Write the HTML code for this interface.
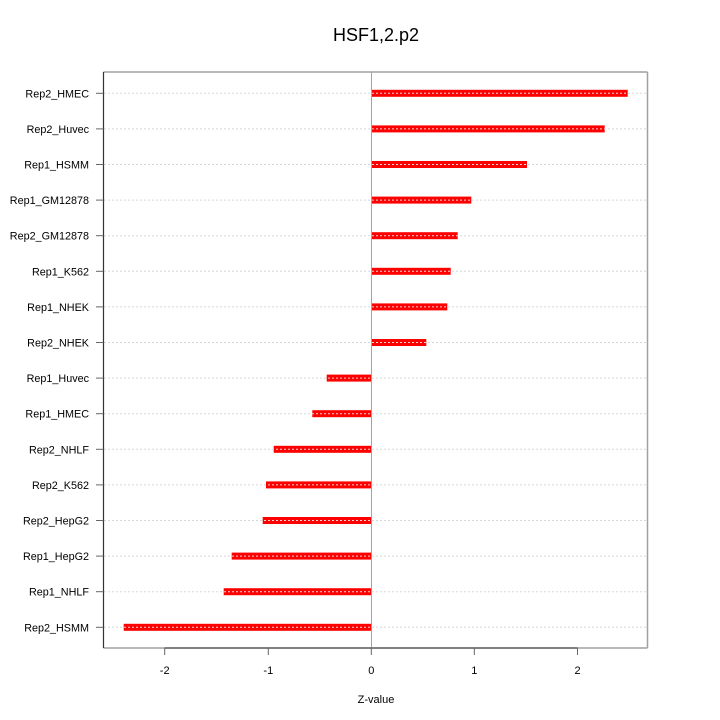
<!DOCTYPE html>
<html><head><meta charset="utf-8"><style>
html,body{margin:0;padding:0;background:#fff;}
svg{display:block;font-family:"Liberation Sans",Arial,sans-serif;}
</style></head><body>
<svg width="720" height="720" viewBox="0 0 720 720" xmlns="http://www.w3.org/2000/svg">
<rect width="720" height="720" fill="#fff"/>
<text x="376" y="41" font-size="18" text-anchor="middle" fill="#000">HSF1,2.p2</text>
<!-- bars -->
<g fill="#ff0000">
<rect x="371.3" y="89.8" width="256.4" height="7"/>
<rect x="371.3" y="125.4" width="233.4" height="7"/>
<rect x="371.3" y="161" width="155.7" height="7"/>
<rect x="371.3" y="196.6" width="100" height="7"/>
<rect x="371.3" y="232.2" width="86.4" height="7"/>
<rect x="371.3" y="267.8" width="79.4" height="7"/>
<rect x="371.3" y="303.4" width="76" height="7"/>
<rect x="371.3" y="339" width="55" height="7"/>
<rect x="326.7" y="374.6" width="44.6" height="7"/>
<rect x="312.3" y="410.2" width="59" height="7"/>
<rect x="273.7" y="445.8" width="97.6" height="7"/>
<rect x="266" y="481.4" width="105.3" height="7"/>
<rect x="262.7" y="517" width="108.6" height="7"/>
<rect x="231.7" y="552.6" width="139.6" height="7"/>
<rect x="223.7" y="588.2" width="147.6" height="7"/>
<rect x="123.7" y="623.8" width="247.6" height="7"/>
</g>
<!-- grid lines -->
<g stroke="#d8d8d8" stroke-width="1" stroke-dasharray="2,2">
<line x1="104" x2="647" y1="93.3" y2="93.3"/>
<line x1="104" x2="647" y1="128.9" y2="128.9"/>
<line x1="104" x2="647" y1="164.5" y2="164.5"/>
<line x1="104" x2="647" y1="200.1" y2="200.1"/>
<line x1="104" x2="647" y1="235.7" y2="235.7"/>
<line x1="104" x2="647" y1="271.3" y2="271.3"/>
<line x1="104" x2="647" y1="306.9" y2="306.9"/>
<line x1="104" x2="647" y1="342.5" y2="342.5"/>
<line x1="104" x2="647" y1="378.1" y2="378.1"/>
<line x1="104" x2="647" y1="413.7" y2="413.7"/>
<line x1="104" x2="647" y1="449.3" y2="449.3"/>
<line x1="104" x2="647" y1="484.9" y2="484.9"/>
<line x1="104" x2="647" y1="520.5" y2="520.5"/>
<line x1="104" x2="647" y1="556.1" y2="556.1"/>
<line x1="104" x2="647" y1="591.7" y2="591.7"/>
<line x1="104" x2="647" y1="627.3" y2="627.3"/>
</g>
<!-- zero line -->
<line x1="371.5" x2="371.5" y1="72" y2="648" stroke="#55dd44" stroke-width="1"/>
<!-- box -->
<line x1="103.5" x2="647.5" y1="72" y2="72" stroke="#a0a0a0" stroke-width="1.5"/>
<line x1="647.5" x2="647.5" y1="72" y2="648" stroke="#a0a0a0" stroke-width="1.5"/>
<line x1="103.5" x2="647.5" y1="648" y2="648" stroke="#a0a0a0" stroke-width="1.5"/>
<line x1="103.5" x2="103.5" y1="72" y2="648" stroke="#333" stroke-width="1.2"/>
<line x1="164.7" x2="577.5" y1="648" y2="648" stroke="#666" stroke-width="1.5"/>
<!-- x ticks -->
<g stroke="#666" stroke-width="1">
<line x1="164.7" x2="164.7" y1="648" y2="655"/>
<line x1="268.3" x2="268.3" y1="648" y2="655"/>
<line x1="371.3" x2="371.3" y1="648" y2="655"/>
<line x1="474.3" x2="474.3" y1="648" y2="655"/>
<line x1="577.5" x2="577.5" y1="648" y2="655"/>
</g>
<g font-size="11" text-anchor="middle" fill="#000">
<text x="164.7" y="674">-2</text>
<text x="268.3" y="674">-1</text>
<text x="371.3" y="674">0</text>
<text x="474.3" y="674">1</text>
<text x="577.5" y="674">2</text>
<text x="376" y="703">Z-value</text>
</g>
<!-- y ticks -->
<g stroke="#666" stroke-width="1">
<line x1="96" x2="103.5" y1="93.3" y2="93.3"/>
<line x1="96" x2="103.5" y1="128.9" y2="128.9"/>
<line x1="96" x2="103.5" y1="164.5" y2="164.5"/>
<line x1="96" x2="103.5" y1="200.1" y2="200.1"/>
<line x1="96" x2="103.5" y1="235.7" y2="235.7"/>
<line x1="96" x2="103.5" y1="271.3" y2="271.3"/>
<line x1="96" x2="103.5" y1="306.9" y2="306.9"/>
<line x1="96" x2="103.5" y1="342.5" y2="342.5"/>
<line x1="96" x2="103.5" y1="378.1" y2="378.1"/>
<line x1="96" x2="103.5" y1="413.7" y2="413.7"/>
<line x1="96" x2="103.5" y1="449.3" y2="449.3"/>
<line x1="96" x2="103.5" y1="484.9" y2="484.9"/>
<line x1="96" x2="103.5" y1="520.5" y2="520.5"/>
<line x1="96" x2="103.5" y1="556.1" y2="556.1"/>
<line x1="96" x2="103.5" y1="591.7" y2="591.7"/>
<line x1="96" x2="103.5" y1="627.3" y2="627.3"/>
</g>
<g font-size="10.8" text-anchor="end" fill="#000">
<text x="89" y="97.3">Rep2_HMEC</text>
<text x="89" y="132.9">Rep2_Huvec</text>
<text x="89" y="168.5">Rep1_HSMM</text>
<text x="89" y="204.1">Rep1_GM12878</text>
<text x="89" y="239.7">Rep2_GM12878</text>
<text x="89" y="275.3">Rep1_K562</text>
<text x="89" y="310.9">Rep1_NHEK</text>
<text x="89" y="346.5">Rep2_NHEK</text>
<text x="89" y="382.1">Rep1_Huvec</text>
<text x="89" y="417.7">Rep1_HMEC</text>
<text x="89" y="453.3">Rep2_NHLF</text>
<text x="89" y="488.9">Rep2_K562</text>
<text x="89" y="524.5">Rep2_HepG2</text>
<text x="89" y="560.1">Rep1_HepG2</text>
<text x="89" y="595.7">Rep1_NHLF</text>
<text x="89" y="631.3">Rep2_HSMM</text>
</g>
</svg>
</body></html>
